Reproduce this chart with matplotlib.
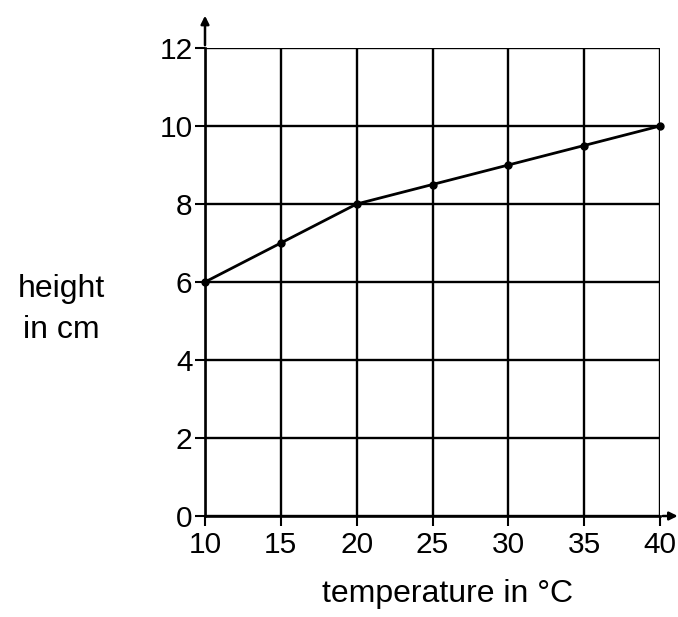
import matplotlib
matplotlib.use("Agg")
import matplotlib.pyplot as plt

temperature = [10, 15, 20, 25, 30, 35, 40]
height = [6, 7, 8, 8.5, 9, 9.5, 10]
x_ticks = [10, 15, 20, 25, 30, 35, 40]
y_ticks = [0, 2, 4, 6, 8, 10, 12]

plt.rcParams['font.family'] = ['Liberation Sans', 'DejaVu Sans']

fig = plt.figure(figsize=(6.78, 6.17), dpi=100)
ax = fig.add_axes([205/678, 1-516/617, (660-205)/678, (516-48)/617])

ax.set_xlim(10, 40)
ax.set_ylim(0, 12)
ax.set_xticks(x_ticks)
ax.set_yticks(y_ticks)
ax.grid(True, color='black', linewidth=1.7)
ax.set_axisbelow(True)
for s in ['top', 'right']:
    ax.spines[s].set_visible(False)
for s in ['left', 'bottom']:
    ax.spines[s].set_linewidth(1.9)

ax.tick_params(axis='both', direction='out', length=7, width=1.5, labelsize=21.5, colors='black')
ax.tick_params(axis='x', pad=3.5)
ax.tick_params(axis='y', pad=2)

ax.plot(temperature, height, color='black', linewidth=2.0, marker='o', markersize=5, clip_on=False, zorder=5)

# axis arrows
ax.annotate('', xy=(0, 1.075), xycoords='axes fraction', xytext=(0, 1.0),
            arrowprops=dict(arrowstyle='-|>', color='black', lw=1.8, mutation_scale=12), annotation_clip=False)
ax.annotate('', xy=(1.045, 0), xycoords='axes fraction', xytext=(1.0, 0),
            arrowprops=dict(arrowstyle='-|>', color='black', lw=1.8, mutation_scale=12), annotation_clip=False)

fig.text(61/678, 1-297/617, 'height', ha='center', va='baseline', fontsize=23)
fig.text(61/678, 1-338/617, 'in cm', ha='center', va='baseline', fontsize=23)
fig.text(448/678, 1-602/617, 'temperature in °C', ha='center', va='baseline', fontsize=23)

fig.savefig('out.png', dpi=100)
